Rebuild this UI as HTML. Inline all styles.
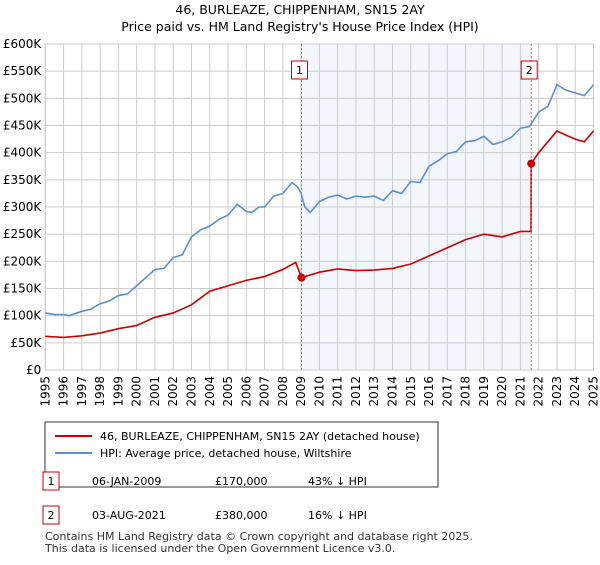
<!DOCTYPE html><html><head><meta charset="utf-8"><style>
body{margin:0;background:#fff;font-family:"Liberation Sans","DejaVu Sans",sans-serif;}
</style></head><body>
<svg width="600" height="560" font-family="DejaVu Sans, Liberation Sans, sans-serif" font-size="12">
<text x="300" y="14" text-anchor="middle" font-size="12.5">46, BURLEAZE, CHIPPENHAM, SN15 2AY</text>
<text x="300" y="31" text-anchor="middle" font-size="12.5">Price paid vs. HM Land Registry's House Price Index (HPI)</text>
<g id="plot"></g>
<g>
<rect x="45" y="422" width="393" height="65" fill="#fff" stroke="#333"/>
<line x1="55" y1="436" x2="92" y2="436" stroke="#cc0000" stroke-width="2"/>
<text x="100" y="440" font-size="11">46, BURLEAZE, CHIPPENHAM, SN15 2AY (detached house)</text>
<line x1="55" y1="453" x2="92" y2="453" stroke="#5b8fd4" stroke-width="2"/>
<text x="100" y="457" font-size="11">HPI: Average price, detached house, Wiltshire</text>
</g>
<g font-size="11">
<rect x="43" y="472" width="16" height="18" fill="#fff" stroke="#cc0000"/><text x="51" y="485" text-anchor="middle">1</text>
<text x="92" y="485">06-JAN-2009</text><text x="215" y="485">£170,000</text><text x="308" y="485">43% ↓ HPI</text>
<rect x="43" y="506" width="16" height="18" fill="#fff" stroke="#cc0000"/><text x="51" y="519" text-anchor="middle">2</text>
<text x="92" y="519">03-AUG-2021</text><text x="215" y="519">£380,000</text><text x="308" y="519">16% ↓ HPI</text>
</g>
<text x="45" y="540" font-size="11" fill="#333">Contains HM Land Registry data © Crown copyright and database right 2025.</text>
<text x="45" y="552" font-size="11" fill="#333">This data is licensed under the Open Government Licence v3.0.</text>
</svg>
<script>
const hpiYears=[1995,1995.5,1996,1996.3,1997,1997.5,1998,1998.5,1999,1999.5,2000,2000.5,2001,2001.5,2002,2002.5,2003,2003.5,2004,2004.5,2005,2005.5,2006,2006.3,2006.7,2007,2007.5,2008,2008.5,2008.8,2009,2009.2,2009.5,2010,2010.5,2011,2011.5,2012,2012.5,2013,2013.5,2014,2014.5,2015,2015.5,2016,2016.5,2017,2017.5,2018,2018.5,2019,2019.5,2020,2020.5,2021,2021.5,2022,2022.5,2023,2023.5,2024,2024.5,2025];
const hpiValues=[105,102,102,100,108,112,122,127,137,140,155,170,185,187,207,212,245,258,265,277,285,305,292,290,300,300,320,325,345,337,325,300,290,310,318,322,315,320,318,320,312,330,325,347,345,375,385,398,402,420,422,430,415,420,428,445,448,475,485,525,515,510,505,525];
const paidYears=[1995,1996,1997,1998,1999,2000,2001,2002,2003,2004,2005,2006,2007,2008,2008.7,2009.02,2010,2011,2012,2013,2014,2015,2016,2017,2018,2019,2020,2021,2021.58,2021.59,2022,2022.5,2023,2023.5,2024,2024.5,2025];
const paidValues=[62,60,63,68,76,82,97,105,120,145,155,165,172,185,198,170,180,186,183,184,187,195,210,225,240,250,245,255,255,380,400,420,440,432,425,420,440];
const sales=[{n:"1",t:2009.02,v:170},{n:"2",t:2021.59,v:380}];
const yTicks=[0,50,100,150,200,250,300,350,400,450,500,550,600];
const xTicks=[1995,1996,1997,1998,1999,2000,2001,2002,2003,2004,2005,2006,2007,2008,2009,2010,2011,2012,2013,2014,2015,2016,2017,2018,2019,2020,2021,2022,2023,2024,2025];
const L=45.3,R=593.5,T=44,B=370;
const X=t=>L+(t-1995)/30*(R-L), Y=v=>B-v/600*(B-T);
const NS="http://www.w3.org/2000/svg", g=document.getElementById('plot');
function el(tag,a,parent){const e=document.createElementNS(NS,tag);for(const k in a)e.setAttribute(k,a[k]);(parent||g).appendChild(e);return e;}
const sh=el('rect',{x:X(sales[0].t),y:T,width:X(sales[1].t)-X(sales[0].t),height:B-T,fill:'#eef3fc',opacity:0.7});


yTicks.forEach(v=>{const l=el('line',{x1:L,x2:R,y1:Y(v),y2:Y(v),stroke:'#ccc'});


const t=el('text',{x:L-4,y:Y(v)+4,'text-anchor':'end','font-size':12});t.textContent=v===0?'£0':'£'+v+'K';

});
xTicks.forEach(y=>{const l=el('line',{x1:X(y),x2:X(y),y1:T,y2:B,stroke:'#ccc'});


const t=el('text',{x:0,y:0,'text-anchor':'end','font-size':12,transform:`translate(${X(y)+4},${B+6}) rotate(-90)`});t.textContent=y;

});
el('rect',{x:L,y:T,width:R-L,height:B-T,fill:'none',stroke:'#ccc'});
function line(xs,vs,c,name){const p=el('polyline',{points:xs.map((t,i)=>X(t)+','+Y(vs[i])).join(' '),fill:'none',stroke:c,'stroke-width':1.6});

}
line(hpiYears,hpiValues,'#5b8fd4','hpi-line');
line(paidYears,paidValues,'#cc0000','price-paid-line');
sales.forEach(s=>{const v=el('line',{x1:X(s.t),x2:X(s.t),y1:T,y2:B,stroke:'#e06060','stroke-dasharray':'2,2'});


const c=el('circle',{cx:X(s.t),cy:Y(s.v),r:4,fill:'#cc0000'});


const r=el('rect',{x:X(s.t)-10,y:61,width:16,height:18,fill:'#fff',stroke:'#cc0000'});


const t=el('text',{x:X(s.t)-2,y:74,'text-anchor':'middle','font-size':11});t.textContent=s.n;

});
</script></body></html>
